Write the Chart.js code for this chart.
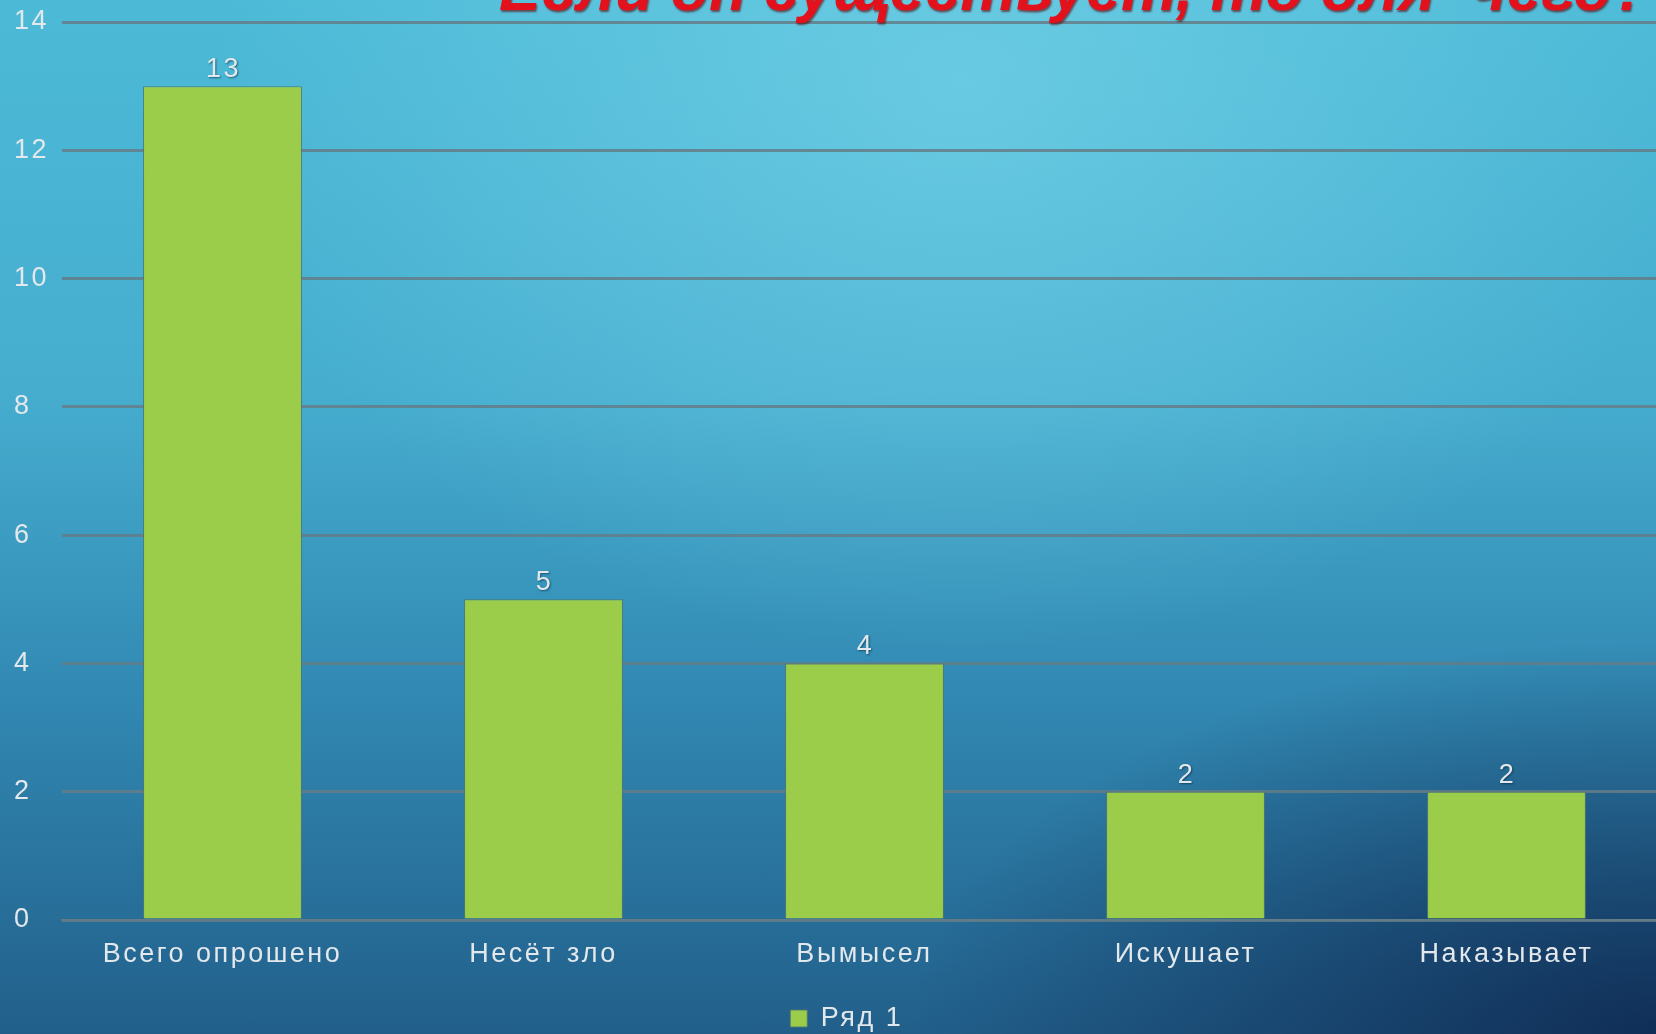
<!DOCTYPE html>
<html>
<head>
<meta charset="utf-8">
<script src="https://cdn.jsdelivr.net/npm/chart.js@4.4.1/dist/chart.umd.min.js"></script>
<style>
    html, body {
        margin: 0;
        padding: 0;
        width: 1656px;
        height: 1034px;
        overflow: hidden;
    }
    body {
        position: relative;
        background:
            radial-gradient(ellipse 45% 38% at 100% 100%, rgba(12, 34, 74, 0.8) 0%, rgba(12, 34, 74, 0) 100%),
            radial-gradient(ellipse 45% 55% at 58% 8%, rgba(125, 215, 235, 0.6) 0%, rgba(125, 215, 235, 0) 100%),
            linear-gradient(180deg, #4cbad7 0%, #46adcf 38%, #3188b2 68%, #215f8a 100%);
    }
    #title {
        position: absolute;
        left: 499px;
        top: 0;
        font-family: "Liberation Sans", Arial, sans-serif;
        font-weight: bold;
        font-style: italic;
        font-size: 66px;
        line-height: 1;
        color: #e3111b;
        white-space: pre;
        text-shadow: 1px 2px 2px rgba(90, 0, 0, 0.6);
        z-index: 2;
    }
    #wrap {
        position: absolute;
        left: 0;
        top: 0;
        width: 1670px;
        height: 1034px;
    }
</style>
</head>
<body>
<div id="title">Если он существует, то для  чего?</div>
<div id="wrap"><canvas id="surveyChart"></canvas></div>
<script>
// Chart data
const categories = ['Всего опрошено', 'Несёт зло', 'Вымысел', 'Искушает', 'Наказывает'];
const seriesName = 'Ряд 1';
const seriesValues = [13, 5, 4, 2, 2];
const yTicks = [0, 2, 4, 6, 8, 10, 12, 14];

const textColor = '#e2e8eb';
const barColor = '#9bcd4b';
const fontFamily = '"Liberation Sans", Arial, sans-serif';

// Title is cut by the top edge: size it to span the same width and put its baseline at y=14
const titleEl = document.getElementById('title');
const titleWidth = titleEl.getBoundingClientRect().width;
const titleSize = 66 * 1151 / titleWidth;
titleEl.style.fontSize = titleSize + 'px';
titleEl.style.top = (14 - titleSize * 0.905) + 'px';

// Wider letter spacing for all chart text, like the original slide
const spacing = {
    id: 'spacing',
    beforeDraw(chart) {
        chart.ctx.letterSpacing = '2.5px';
    }
};

// Draw the value above each bar
const valueLabels = {
    id: 'valueLabels',
    afterDatasetsDraw(chart) {
        const ctx = chart.ctx;
        const meta = chart.getDatasetMeta(0);
        ctx.save();
        ctx.font = '27px ' + fontFamily;
        ctx.fillStyle = textColor;
        ctx.textAlign = 'center';
        ctx.textBaseline = 'bottom';
        ctx.shadowColor = 'rgba(0, 40, 60, 0.6)';
        ctx.shadowBlur = 2;
        ctx.shadowOffsetX = 1;
        ctx.shadowOffsetY = 1;
        meta.data.forEach((bar, i) => {
            ctx.fillText(String(seriesValues[i]), bar.x + 1, bar.y - 3);
        });
        ctx.restore();
    }
};

const ctx = document.getElementById('surveyChart').getContext('2d');

new Chart(ctx, {
    type: 'bar',
    data: {
        labels: categories,
        datasets: [{
            label: seriesName,
            data: seriesValues,
            backgroundColor: barColor,
            borderColor: 'rgba(80, 120, 110, 0.9)',
            borderWidth: 1,
            barPercentage: 0.495,
            categoryPercentage: 1.0
        }]
    },
    options: {
        responsive: true,
        maintainAspectRatio: false,
        animation: false,
        layout: {
            padding: { top: 22, right: 3, left: 14, bottom: -8 }
        },
        scales: {
            x: {
                grid: { display: false },
                border: { color: 'rgba(100, 125, 135, 0.9)', width: 2 },
                ticks: {
                    color: textColor,
                    font: { family: fontFamily, size: 27 },
                    padding: 10,
                    maxRotation: 0
                },
                afterFit: (scale) => { scale.height = 84; }
            },
            y: {
                min: 0,
                max: 14,
                afterBuildTicks: (scale) => {
                    scale.ticks = yTicks.map(v => ({ value: v }));
                },
                grid: {
                    color: 'rgba(100, 125, 135, 0.85)',
                    lineWidth: 3,
                    drawTicks: false
                },
                border: { display: false },
                ticks: {
                    color: textColor,
                    font: { family: fontFamily, size: 27 },
                    crossAlign: 'far',
                    padding: 16
                },
                afterFit: (scale) => {
                    scale.width = 48;
                    scale.paddingTop = 0;
                    scale.paddingBottom = 0;
                }
            }
        },
        plugins: {
            legend: {
                position: 'bottom',
                labels: {
                    color: textColor,
                    font: { family: fontFamily, size: 27 },
                    boxWidth: 17,
                    boxHeight: 17,
                    padding: 1
                }
            },
            tooltip: { enabled: false }
        }
    },
    plugins: [spacing, valueLabels]
});
</script>
</body>
</html>
